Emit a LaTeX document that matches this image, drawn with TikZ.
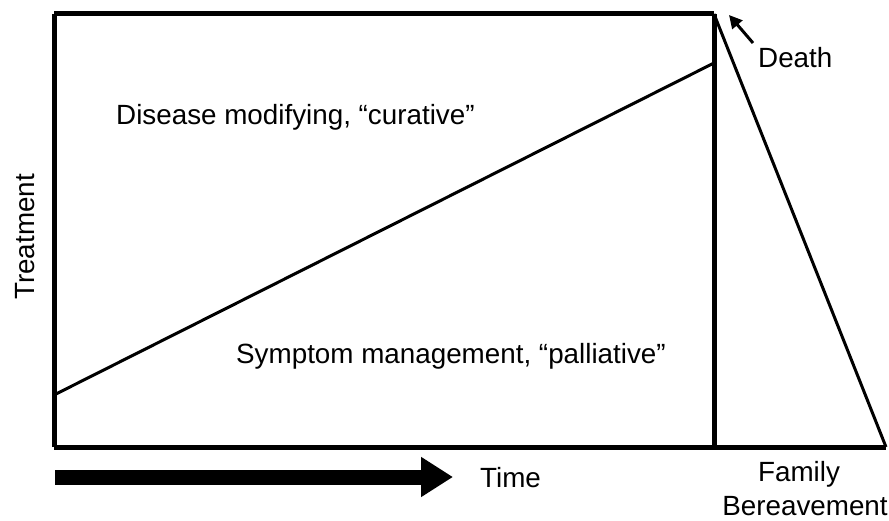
\documentclass[tikz,border=0pt]{standalone}
\usepackage{fontspec}
\setmainfont{Liberation Sans}
\usetikzlibrary{arrows.meta}
\begin{document}
\begin{tikzpicture}[x=1pt,y=-1pt,
  lbl/.style={inner sep=0pt,font=\fontsize{27.8}{32}\selectfont},
  frame/.style={line width=5pt,line join=miter},
  thin/.style={line width=3pt},
  timearrow/.style={line width=15pt,-{Triangle[length=32pt,width=38pt]}},
  deatharrow/.style={line width=3pt,-{Triangle[length=13pt,width=13pt]}}]
\useasboundingbox (0,0) rectangle (889,521);
% corners
\coordinate (tl) at (54,14);
\coordinate (bl) at (54,447);
\coordinate (tr) at (714,14);
\coordinate (br) at (714,447);
\coordinate (tri) at (886,447);
\coordinate (dstart) at (54,395);
\coordinate (dend) at (714,63);
% box
\draw[frame] (tl) -- (tr);
\draw[frame] (tr) -- (br);
\draw[frame] (bl) -- (tl);
\draw[frame] (bl) -- (tri);
% diagonal
\draw[thin] (dstart) -- (dend);
% triangle edge
\draw[thin] (tr) -- (tri);
% labels
\node[lbl,anchor=base west] (dis) at (116,125) {Disease modifying, “curative”};
\node[lbl,anchor=base west] (sym) at (236,363) {Symptom management, “palliative”};
\node[lbl,rotate=90] (treat) at (25,237) {Treatment};
\node[lbl,anchor=base west] (death) at (758,68) {Death};
\node[lbl,anchor=base] (fam) at (799,481) {Family};
\node[lbl,anchor=base] (ber) at (805,515) {Bereavement};
\node[lbl,anchor=base west] (time) at (480,487) {Time};
% arrows
\coordinate (ts) at (55,477);
\coordinate (te) at (453,477);
\draw[timearrow] (ts) -- (te);
\coordinate (ds) at (753,43);
\coordinate (de) at (729,15);
\draw[deatharrow] (ds) -- (de);
\end{tikzpicture}
\end{document}
